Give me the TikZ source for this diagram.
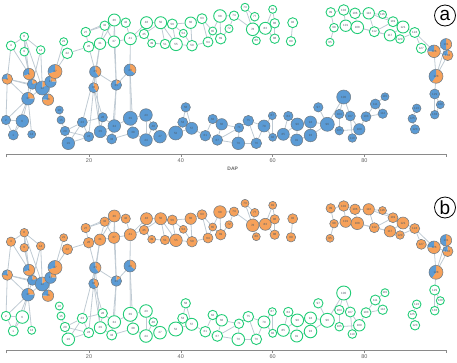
\documentclass[tikz,border=0pt]{standalone}
\usepackage{fontspec}
\setmainfont{Liberation Sans}
\usetikzlibrary{backgrounds}
\definecolor{blueC}{HTML}{5B9BD5}
\definecolor{orangeC}{HTML}{F6A15A}
\definecolor{greenC}{HTML}{22CC77}
\definecolor{edgeC}{HTML}{BFCAD3}
\definecolor{outC}{HTML}{6F7B85}
\definecolor{labelC}{HTML}{4D5A66}
\definecolor{axisC}{HTML}{8A8A8A}
\tikzset{
  lbl/.style={font=\fontsize{3}{3.5}\selectfont, text=labelC, inner sep=0pt},
  basenode/.style={circle, inner sep=0pt, font=\fontsize{3}{3.5}\selectfont, text=labelC},
  greenN/.style={basenode, draw=greenC, line width=0.9pt, fill=white},
  blueN/.style={basenode, draw=outC, line width=0.55pt, fill=blueC},
  orangeN/.style={basenode, draw=outC, line width=0.55pt, fill=orangeC},
  pieN/.style={circle, inner sep=0pt},
  link/.style={draw=edgeC, line width=0.8pt},
  ticklbl/.style={font=\fontsize{5.5}{6.5}\selectfont, text=black!62, inner sep=0pt},
  panellbl/.style={circle, draw=black, line width=0.8pt, minimum size=21pt, inner sep=0pt, font=\fontsize{19}{19}\selectfont},
}
\newcommand\TopN[4]{\node[topS, minimum size={2*#4pt}] (t#1) at (#2,#3) {#1};}
\newcommand\BotN[4]{\node[botS, minimum size={2*#4pt}] (b#1) at (#2,#3) {#1};}
\newcommand\PieN[6]{%
  \node[pieN, minimum size={2*#4pt}] (#1) at (#2,#3) {};
  \fill[orangeC] (#1.center) -- ++(90:#4pt) arc[start angle=90, delta angle={-360*#5}, radius=#4pt] -- cycle;
  \fill[blueC] (#1.center) -- ++({90-360*#5}:#4pt) arc[start angle={90-360*#5}, end angle=-270, radius=#4pt] -- cycle;
  \draw[draw=outC, line width=0.55pt] (#1.center) circle[radius=#4pt];
  \node[lbl] (#1l) at (#1.center) {#6};
}
\newcommand\Edges[1]{\foreach \u/\v in {#1} {\draw[link] (\u) -- (\v);}}
\newcommand\Graph{%
  % top group
  \TopN{4}{11}{45.7}{4.7}
  \TopN{8}{24.3}{36.7}{4.3}
  \TopN{9}{24.3}{51.7}{4.3}
  \TopN{14}{40.7}{50}{4.3}
  \TopN{21}{63.7}{41.7}{4}
  \TopN{22}{67.3}{53.3}{5.3}
  \TopN{27}{85.7}{32}{4.7}
  \TopN{26}{88.7}{46.7}{5.3}
  \TopN{31}{100}{43.7}{5.7}
  \TopN{32}{104.7}{25.7}{4.7}
  \TopN{36}{114.3}{20}{6}
  \TopN{42}{125.7}{22.7}{4.7}
  \TopN{37}{114}{41.7}{5.7}
  \TopN{41}{130.3}{38.7}{6}
  \TopN{46}{146.5}{22.7}{6}
  \TopN{45}{144}{34}{4.7}
  \TopN{49}{151.7}{43.3}{4}
  \TopN{50}{160.7}{22.7}{6}
  \TopN{51}{165}{44}{4.7}
  \TopN{55}{176}{44.3}{6.3}
  \TopN{56}{172.3}{24}{5}
  \TopN{54}{183.3}{33.3}{4}
  \TopN{60}{190.7}{22.7}{5.7}
  \TopN{59}{192}{45.7}{5.3}
  \TopN{63}{202}{18.7}{5}
  \TopN{64}{208}{42}{5}
  \TopN{65}{212.7}{31}{4}
  \TopN{68}{220}{16}{6.3}
  \TopN{69}{220.7}{38.7}{5.3}
  \TopN{74}{234}{15.7}{4.7}
  \TopN{72}{229}{28.7}{4}
  \TopN{73}{245}{7.3}{4}
  \TopN{77}{254.7}{16.7}{4.3}
  \TopN{78}{252.7}{29.3}{6.3}
  \TopN{80}{256.3}{40.7}{4}
  \TopN{83}{265.3}{28.3}{6}
  \TopN{81}{272.7}{9.3}{4}
  \TopN{86}{274.7}{23.3}{4.7}
  \TopN{88}{274.7}{38.7}{4.7}
  \TopN{92}{292.7}{22.7}{5}
  \TopN{89}{291}{41.3}{4.7}
  \TopN{99}{330.7}{12.3}{4.7}
  \TopN{95}{330}{42.3}{4}
  \TopN{98}{334}{27.7}{4.3}
  \TopN{102}{343.7}{10}{5.3}
  \TopN{101}{345.7}{25.7}{5.7}
  \TopN{106}{355}{13.3}{5.3}
  \TopN{108}{357.3}{27.3}{6.3}
  \TopN{113}{368.7}{13.3}{5.7}
  \TopN{112}{374.3}{31.7}{5}
  \TopN{116}{382.5}{14.5}{4}
  \TopN{117}{390}{35.3}{5.7}
  \TopN{119}{393}{21.7}{5}
  \TopN{120}{400}{39}{4.3}
  \TopN{121}{403}{27}{6}
  \TopN{124}{414.7}{32.5}{5}
  \TopN{127}{421.3}{48.3}{5}
  % pies: name x y r orange-fraction label
  \PieN{p1}{7.3}{79}{5.3}{0.75}{3}
  \PieN{p2}{29}{74}{5.7}{0.7}{5}
  \PieN{p3}{32.3}{84.3}{5}{0.2}{7}
  \PieN{p4}{42.3}{88}{7}{0.15}{12}
  \PieN{p5}{50.5}{81.7}{5.7}{0.25}{11}
  \PieN{p6}{55}{71.5}{7}{0.7}{17}
  \PieN{p7}{28}{98.7}{6.3}{0.25}{10}
  \PieN{p8}{48}{99.7}{5.7}{0.75}{16}
  \PieN{p9}{95.3}{71.7}{5.7}{0.4}{25}
  \PieN{p10}{93.7}{87.7}{5}{0.4}{30}
  \PieN{p11}{116.3}{85}{5.3}{0.15}{35}
  \PieN{p12}{130}{70}{6}{0.35}{40}
  \PieN{q1}{434}{51.3}{6.3}{0.75}{126}
  \PieN{q2}{446}{44.3}{5.7}{0.5}{131}
  \PieN{q3}{447.7}{55.3}{5.3}{0.75}{132}
  \PieN{q4}{436}{76.3}{7}{0.6}{128}
  % bottom group
  \BotN{2}{6}{120}{4.7}
  \BotN{6}{22.3}{121}{6.3}
  \BotN{1}{13.3}{135}{5}
  \BotN{13}{31.7}{134.3}{4}
  \BotN{18}{59.3}{110}{4}
  \BotN{15}{61}{120}{4}
  \BotN{20}{65}{131}{4.7}
  \BotN{19}{68.3}{143.3}{6.3}
  \BotN{23}{82.3}{122.3}{5}
  \BotN{24}{88.7}{136.7}{5}
  \BotN{28}{102.7}{117.3}{4.7}
  \BotN{29}{100.3}{131.7}{6}
  \BotN{34}{114.3}{126}{6.3}
  \BotN{33}{111.7}{139}{5}
  \BotN{39}{130.3}{118.3}{7}
  \BotN{38}{133}{132.7}{5.7}
  \BotN{43}{146}{115}{6.3}
  \BotN{44}{146}{140}{6.3}
  \BotN{48}{153.3}{126}{4.3}
  \BotN{47}{160}{136.7}{6.3}
  \BotN{52}{175.7}{133}{7}
  \BotN{53}{182.7}{122.3}{5}
  \BotN{58}{185.7}{107.3}{4.7}
  \BotN{57}{191.7}{128.3}{6}
  \BotN{61}{205.3}{135.7}{5.3}
  \BotN{62}{212.7}{119}{4.7}
  \BotN{66}{221.7}{124.3}{5.7}
  \BotN{67}{217.3}{140}{5.3}
  \BotN{71}{239}{127.7}{4.7}
  \BotN{75}{248.3}{120.7}{5.3}
  \BotN{70}{238.3}{143.3}{6.3}
  \BotN{76}{256.3}{143.3}{5.3}
  \BotN{79}{264}{126}{6}
  \BotN{87}{272.3}{115.7}{4}
  \BotN{82}{272.7}{137.3}{4}
  \BotN{85}{283.3}{134.3}{6}
  \BotN{84}{288.3}{116}{4.7}
  \BotN{90}{297.3}{124.3}{6.3}
  \BotN{91}{296.7}{140}{6}
  \BotN{94}{310.5}{122}{6}
  \BotN{93}{310.5}{135.5}{6.3}
  \BotN{97}{318.3}{107.3}{4.7}
  \BotN{96}{327.3}{124.3}{7}
  \BotN{100}{343.7}{97}{7}
  \BotN{104}{339.3}{114}{4.7}
  \BotN{105}{339.3}{130.7}{4.3}
  \BotN{107}{350.3}{116}{5}
  \BotN{110}{352.3}{138}{4.3}
  \BotN{109}{359.3}{129.3}{5.7}
  \BotN{103}{366}{116.7}{5}
  \BotN{111}{375.3}{104}{5}
  \BotN{115}{385}{96.7}{4}
  \BotN{114}{382.7}{113.7}{4.7}
  \BotN{122}{416.7}{108.3}{4.3}
  \BotN{125}{412.3}{118.7}{4.3}
  \BotN{123}{415}{129.3}{4.7}
  \BotN{129}{434.7}{94}{5}
  \BotN{130}{440.3}{104.7}{4}
  \BotN{133}{434.7}{114.7}{4.3}
  \begin{pgfonlayer}{background}
  \Edges{t4/t8, t4/p1, t4/p2, t8/t9, t8/t14, t8/p2, t8/p4, t9/p2, t9/p3, t14/p4, t14/p3,
    p1/p3, p1/b2, p1/p7, p1/p4, p2/p3, p2/p4, p2/p7, p3/p4, p3/p7, p4/p5, p4/p6, p5/p6,
    p4/p8, p5/p8, p4/p7, t21/p6, t22/p6, t22/t26,
    p7/b2, p7/b6, p7/b13, p7/b1, b2/b6, b2/b1, b6/b1,
    b18/b15, b15/b20, b20/b19, b20/b23, b19/b23, b19/b24, b23/b24, b20/b24,
    t26/t27, t26/t31, t27/t32, t27/t36, t31/t32, t31/t36, t32/t36, t36/t37, t36/t42,
    t32/t37, t37/t41, t41/t42, t41/t46, t41/t45, t31/t37,
    t26/p9, t31/p9, p9/p10, p9/b23, p9/p11, p10/b24, p10/b28, p10/b29, p9/b29,
    t37/p11, t36/p11, t41/p12, p11/p12, p11/b34, p11/b33, p12/b39, p12/b38, t31/p10}
  \Edges{b23/b28, b24/b29, b28/b29, b28/b34, b29/b34, b29/b33, b33/b34, b34/b39, b33/b38,
    b38/b39, b39/b43, b38/b44, b43/b44, b43/b48, b44/b48, b48/b47, b44/b47, b47/b52,
    b52/b53, b53/b58, b53/b57, b52/b57, b57/b58, b57/b61, b61/b62, b62/b66, b61/b67,
    b66/b67, b66/b71, b67/b71, b67/b70, b71/b75, b71/b70, b70/b76, b75/b76, b75/b79,
    b76/b79, b79/b87, b79/b82, b87/b82, b82/b85, b85/b84, b85/b90, b84/b90, b90/b91,
    b85/b91, b90/b94, b91/b93, b94/b93, b94/b96, b93/b96, b96/b97, b96/b100, b100/b104,
    b100/b107, b104/b105, b104/b107, b107/b110, b107/b109, b105/b109, b109/b103,
    b103/b111, b111/b115, b111/b114, b103/b114,
    b122/b125, b125/b123, b129/b130, b130/b133, b129/b133, q4/b129}
  \Edges{t45/t46, t45/t49, t46/t50, t45/t50, t49/t51, t50/t51, t50/t55, t51/t55, t50/t56,
    t55/t56, t56/t54, t56/t60, t54/t59, t55/t59, t60/t59, t60/t63, t59/t64, t63/t64,
    t63/t65, t64/t65, t65/t68, t68/t69, t65/t69, t68/t74, t74/t72, t74/t78, t72/t69,
    t73/t77, t73/t78, t77/t78, t78/t83, t78/t80, t83/t86, t83/t81, t83/t88, t86/t88,
    t81/t86, t92/t89,
    t99/t102, t99/t98, t102/t106, t98/t101, t101/t108, t102/t101, t106/t108, t106/t113,
    t113/t116, t108/t112, t113/t112, t113/t119, t116/t119, t119/t121, t112/t117,
    t117/t121, t117/t120, t121/t124, t120/t124, t124/t127, t124/q1, t127/q1, t95/t98,
    t112/t119, t108/t117,
    q1/q2, q1/q3, q2/q3, q1/q4, q3/q4, q2/q4}
  \end{pgfonlayer}
  % axis
  \draw[axisC, line width=0.6pt] (6.7,157.3) -- (6.7,154.3) -- (446.7,154.3) -- (446.7,157.3);
  \foreach \xx/\tt in {89/20, 180.8/40, 272.6/60, 364.4/80} {
    \draw[axisC, line width=0.6pt] (\xx,154.3) -- (\xx,157.3);
    \node[ticklbl] (tick\tt) at (\xx,161) {\tt};
  }
}
\begin{document}
\begin{tikzpicture}[x=1pt, y=-1pt]
  \useasboundingbox (0,0) rectangle (457,362);
  \begin{scope}[name prefix=a-, topS/.style={greenN}, botS/.style={blueN}]
    \Graph
    \node[ticklbl, font=\fontsize{5}{6}\selectfont\bfseries, text=black!60] (dap) at (232.7,168.5) {DAP};
    \node[panellbl] (lab) at (445,15.5) {a};
  \end{scope}
  \begin{scope}[shift={(0,196)}, name prefix=b-, topS/.style={orangeN}, botS/.style={greenN}]
    \Graph
    \node[panellbl] (lab) at (445,11.5) {b};
  \end{scope}
\end{tikzpicture}
\end{document}
